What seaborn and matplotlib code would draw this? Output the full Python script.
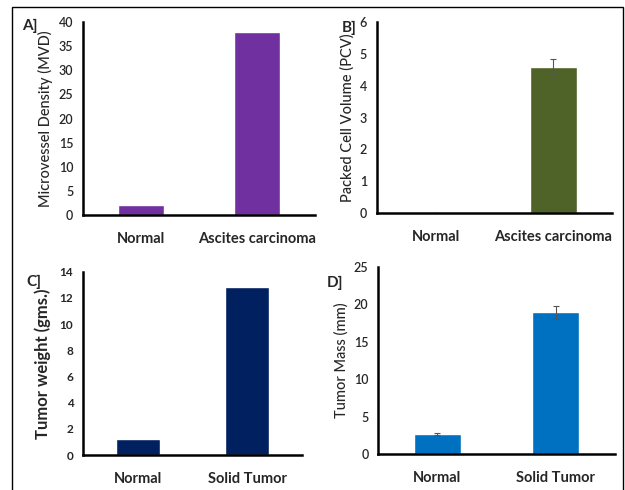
import matplotlib
matplotlib.use("Agg")
import matplotlib.pyplot as plt
import seaborn as sns
from matplotlib.patches import Rectangle

sns.set_style("white")
plt.rcParams['font.family'] = ['Lato', 'DejaVu Sans']

# data
cats_ab = ["Normal", "Ascites carcinoma"]
cats_cd = ["Normal", "Solid Tumor"]

mvd = [2.0, 38.0]
pcv = [0.0, 4.6]
pcv_err = [0.0, 0.23]
tumor_weight = [1.2, 12.8]
tumor_mass = [2.7, 18.9]
tumor_mass_err = [0.1, 0.9]

panels = [
    # label, cats, values, errors, color, ylabel, ymax, ystep, rect, bold ylabel
    ("A]", cats_ab, mvd, None, "#7030A0", "Microvessel Density (MVD)", 40, 5,
     [0.1328, 0.561, 0.371, 0.394], False),
    ("B]", cats_ab, pcv, pcv_err, "#4F6228", "Packed Cell Volume (PCV)", 6, 1,
     [0.603, 0.565, 0.376, 0.390], False),
    ("C]", cats_cd, tumor_weight, None, "#002060", "Tumor weight (gms.)", 14, 2,
     [0.1328, 0.0714, 0.350, 0.374], True),
    ("D]", cats_cd, tumor_mass, tumor_mass_err, "#0070C0", "Tumor Mass (mm)", 25, 5,
     [0.605, 0.0735, 0.379, 0.382], False),
]

fig = plt.figure(figsize=(6.25, 4.9), dpi=100)

label_pos = {"A]": (0.035, 0.962), "B]": (0.547, 0.958), "C]": (0.043, 0.440), "D]": (0.523, 0.437)}

for lab, cats, vals, errs, col, ylab, ymax, ystep, rect, boldy in panels:
    ax = fig.add_axes(rect)
    sns.barplot(x=cats, y=vals, color=col, saturation=1, width=0.4, ax=ax)
    if errs is not None:
        ax.errorbar(x=list(range(len(cats))), y=vals, yerr=errs, fmt="none",
                    ecolor="#555555", elinewidth=0.8, capsize=2.5, capthick=0.8)
    ax.set_xlim(-0.5, 1.5)
    ax.set_ylim(0, ymax)
    ax.set_yticks(list(range(0, ymax + 1, ystep)))
    ax.tick_params(axis="y", direction="out", length=3, width=1.5, labelsize=9,
                   pad=4)
    for t in ax.get_yticklabels():
        t.set_fontweight("bold" if boldy else "semibold")
        if boldy:
            t.set_fontsize(8.5)
    ax.set_xticks([0, 1])
    ax.set_xticklabels(cats, fontsize=10.5, fontweight="bold")
    ax.tick_params(axis="x", length=0, pad=12)
    ax.set_xticks([-0.5, 0.5, 1.5], minor=True)
    ax.tick_params(axis="x", which="minor", direction="out", length=4, width=1.8)
    for s in ["top", "right"]:
        ax.spines[s].set_visible(False)
    for s in ["left", "bottom"]:
        ax.spines[s].set_linewidth(1.8)
        ax.spines[s].set_color("black")
    if boldy:
        ax.set_ylabel(ylab, fontsize=12, fontweight="bold", labelpad=6)
    else:
        ax.set_ylabel(ylab, fontsize=10.5, fontweight="medium", labelpad=4)
    ax.set_xlabel("")
    lx, ly = label_pos[lab]
    fig.text(lx, ly, lab, fontsize=11, fontweight="bold", ha="left", va="top")

# outer frame
fig.patches.append(Rectangle((0.019, -0.05), 0.978, 1.036, transform=fig.transFigure,
                             fill=False, edgecolor="black", linewidth=1.0))

fig.savefig("out.png", dpi=100)
